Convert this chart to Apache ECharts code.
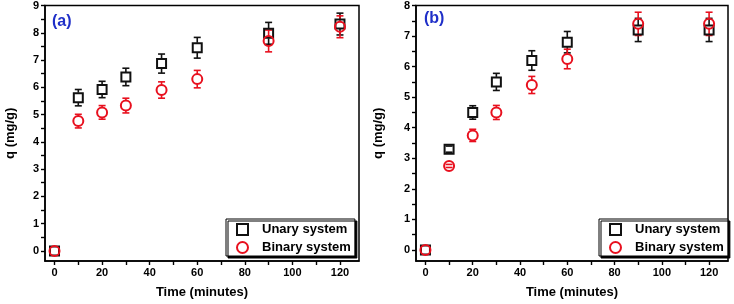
<!DOCTYPE html>
<html>
<head>
<meta charset="utf-8">
<script src="https://cdn.jsdelivr.net/npm/echarts@6/dist/echarts.min.js"></script>
<style>
html,body{margin:0;padding:0;background:#fff;}
#main{width:734px;height:304px;}
</style>
</head>
<body>
<div id="main"></div>
<script>
// 时间点 (minutes)
var times = [0, 10, 20, 30, 45, 60, 90, 120];

// panel (a)
var unaryA = [0, 5.62, 5.92, 6.38, 6.87, 7.45, 7.98, 8.32];
var unaryErrA = [0, 0.3, 0.3, 0.32, 0.35, 0.38, 0.4, 0.4];
var binaryA = [0, 4.76, 5.08, 5.33, 5.9, 6.3, 7.7, 8.22];
var binaryErrA = [0, 0.25, 0.25, 0.27, 0.3, 0.32, 0.4, 0.4];

// panel (b)
var unaryB = [0, 3.3, 4.5, 5.5, 6.2, 6.8, 7.2, 7.2];
var unaryErrB = [0, 0.1, 0.22, 0.28, 0.32, 0.35, 0.38, 0.38];
var binaryB = [0, 2.75, 3.75, 4.5, 5.4, 6.25, 7.4, 7.4];
var binaryErrB = [0, 0.05, 0.2, 0.23, 0.28, 0.32, 0.38, 0.38];

// ticks
var xMajor = [0, 20, 40, 60, 80, 100, 120];
var xMinor = [10, 30, 50, 70, 90, 110];
var yMajorA = [0, 1, 2, 3, 4, 5, 6, 7, 8, 9];
var yMajorB = [0, 1, 2, 3, 4, 5, 6, 7, 8];

var labelFont = {fontFamily: 'Liberation Sans', fontWeight: 'bold', fontSize: 11, color: '#000'};
var nameFont = {fontFamily: 'Liberation Sans', fontWeight: 'bold', fontSize: 13, color: '#000'};

function halves(list){
	var out = [];
	for(var i = 0;i<list.length-1;i++){
		out.push(list[i] + 0.5);
	}
	return out;
}

function pairs(xs, ys){
	var d = [];
	for(var i = 0;i<xs.length;i++){
		d.push([xs[i], ys[i]]);
	}
	return d;
}

function errData(xs, ys, es){
	var d = [];
	for(var i = 0;i<xs.length;i++){
		if(es[i] > 0) d.push([xs[i], ys[i], es[i]]);
	}
	return d;
}

function errSeries(data, color, xi, yi, gap){
	return {
		type: 'custom',
		xAxisIndex: xi,
		yAxisIndex: yi,
		z: 1,
		silent: true,
		renderItem: function(params, api){
			var x = api.value(0), y = api.value(1), e = api.value(2);
			var top = api.coord([x, y + e]);
			var mid = api.coord([x, y]);
			var bot = api.coord([x, y - e]);
			var style = {stroke: color, lineWidth: 1.6};
			var kids = [
				{type: 'line', shape: {x1: top[0] - 3.5, y1: top[1], x2: top[0] + 3.5, y2: top[1]}, style: style},
				{type: 'line', shape: {x1: bot[0] - 3.5, y1: bot[1], x2: bot[0] + 3.5, y2: bot[1]}, style: style}
			];
			if(mid[1] - gap > top[1]){
				kids.push({type: 'line', shape: {x1: top[0], y1: top[1], x2: top[0], y2: mid[1] - gap}, style: style});
				kids.push({type: 'line', shape: {x1: bot[0], y1: mid[1] + gap, x2: bot[0], y2: bot[1]}, style: style});
			}
			return {type: 'group', children: kids};
		},
		data: data
	};
}

//刻度：主刻度 + 次刻度一起画
function xAxisAt(gi){
	return {
		gridIndex: gi, type: 'value', min: -4, max: 128, position: 'bottom',
		name: 'Time (minutes)', nameLocation: 'middle', nameGap: 25, nameTextStyle: nameFont,
		axisLine: {onZero: false, lineStyle: {color: '#000', width: 1.5}},
		axisTick: {customValues: xMajor.concat(xMinor), length: 4, lineStyle: {color: '#000', width: 1.4}},
		axisLabel: {customValues: xMajor, margin: 6, textStyle: labelFont},
		splitLine: {show: false}
	};
}

function yAxisAt(gi, major, ymin, ymax, gap){
	return {
		gridIndex: gi, type: 'value', min: ymin, max: ymax, position: 'left',
		name: 'q (mg/g)', nameLocation: 'middle', nameGap: gap, nameTextStyle: nameFont,
		axisLine: {onZero: false, lineStyle: {color: '#000', width: 1.5}},
		axisTick: {customValues: major.concat(halves(major)), length: 4, lineStyle: {color: '#000', width: 1.4}},
		axisLabel: {customValues: major, margin: 6, textStyle: labelFont},
		splitLine: {show: false}
	};
}

function scatter(name, data, symbol, color, xi, yi){
	return {
		name: name,
		type: 'scatter',
		xAxisIndex: xi,
		yAxisIndex: yi,
		z: 3,
		symbol: symbol,
		symbolSize: symbol == 'rect' ? 9 : 10,
		itemStyle: {color: 'rgba(255,255,255,0)', borderColor: color, borderWidth: 2, opacity: 1},
		data: data
	};
}

function legendAt(left){
	return {
		data: ['Unary system', 'Binary system'],
		orient: 'vertical',
		left: left,
		top: 219,
		itemWidth: 11,
		itemHeight: 11,
		itemGap: 5,
		padding: [4, 4, 2, 10],
		backgroundColor: '#fff',
		borderColor: '#000',
		borderWidth: 1,
		shadowColor: '#000',
		shadowOffsetX: 2,
		shadowOffsetY: 2,
		shadowBlur: 0,
		textStyle: {fontFamily: 'Liberation Sans', fontWeight: 'bold', fontSize: 13, color: '#000', padding: [0, 0, 0, 9]}
	};
}

var black = '#111';
var red = '#e8101e';

var option = {
	animation: false,
	backgroundColor: '#fff',
	title: [
		{text: '(a)', left: 47, top: 9, textStyle: {fontFamily: 'Liberation Sans', fontWeight: 'bold', fontSize: 16, color: '#1f2fc8'}},
		{text: '(b)', left: 419, top: 6, textStyle: {fontFamily: 'Liberation Sans', fontWeight: 'bold', fontSize: 16, color: '#1f2fc8'}}
	],
	grid: [
		{left: 45, top: 5, width: 314, height: 257, show: true, borderColor: '#000', borderWidth: 1.5, backgroundColor: 'transparent'},
		{left: 416, top: 5, width: 312, height: 257, show: true, borderColor: '#000', borderWidth: 1.5, backgroundColor: 'transparent'}
	],
	xAxis: [xAxisAt(0), xAxisAt(1)],
	yAxis: [yAxisAt(0, yMajorA, -0.37, 9, 28), yAxisAt(1, yMajorB, -0.36, 8, 31)],
	legend: [legendAt(226), legendAt(599)],
	series: [
		errSeries(errData(times, unaryA, unaryErrA), black, 0, 0, 5),
		errSeries(errData(times, binaryA, binaryErrA), red, 0, 0, 5),
		scatter('Unary system', pairs(times, unaryA), 'rect', black, 0, 0),
		scatter('Binary system', pairs(times, binaryA), 'circle', red, 0, 0),
		errSeries(errData(times, unaryB, unaryErrB), black, 1, 1, 5),
		errSeries(errData(times, binaryB, binaryErrB), red, 1, 1, 5),
		scatter('Unary system', pairs(times, unaryB), 'rect', black, 1, 1),
		scatter('Binary system', pairs(times, binaryB), 'circle', red, 1, 1)
	]
};

var myChart = echarts.init(document.getElementById('main'));
myChart.setOption(option);
</script>
</body>
</html>
